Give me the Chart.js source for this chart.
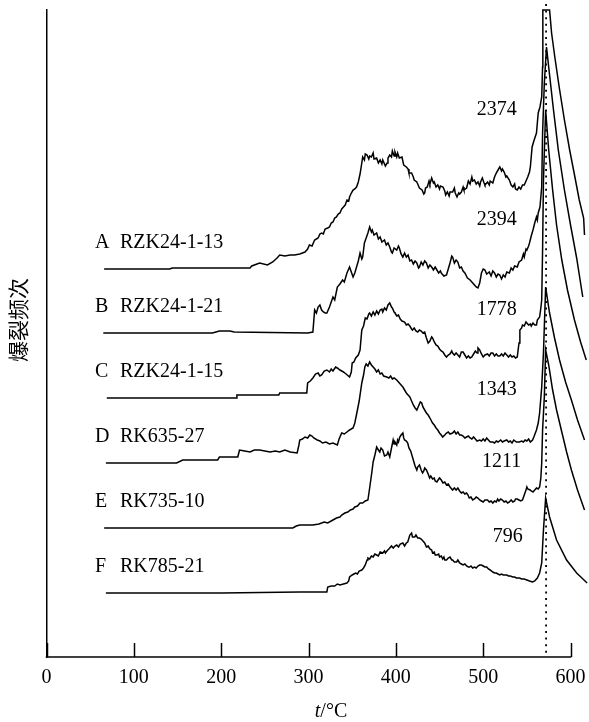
<!DOCTYPE html>
<html><head><meta charset="utf-8">
<script src="https://cdn.jsdelivr.net/npm/chart.js@4.4.1/dist/chart.umd.min.js"></script>
<style>html,body{margin:0;padding:0;background:#fff;}canvas{display:block;}</style>
</head><body>
<canvas id="c" width="589" height="722" style="width:589px;height:722px"></canvas>
<script>
// ---- data ----
const xTicks = [0,100,200,300,400,500,600];
const curveLetters = ['A','B','C','D','E','F'];
const sampleIds = ['RZK24-1-13','RZK24-1-21','RZK24-1-15','RK635-27','RK735-10','RK785-21'];
const peakCounts = ['2374','2394','1778','1343','1211','796'];
const baselineOffsets = [388,324,259,194,129,64];   // vertical offset of each stacked curve
const quartzLineT = 572;                              // dotted reference line (°C)

// [temperature °C, decrepitation height above own baseline]
const curveA = [[66,0],[141,0],[144,1],[233,1],[235,3],[244,6],[253,4],[259,7],[264,11],[267,14],[273,13],[279,14],[284,14],[290,15],[296,17],[299,20],[301,24],[304,23],[307,29],[311,31],[313,35],[315,36],[317,35],[319,40],[322,41],[324,42],[326,46],[328,47],[330,51],[332,52],[334,55],[336,56],[338,60],[339,61],[342,64],[344,69],[346,68],[347,72],[349,76],[351,79],[353,80],[355,82],[357,87],[359,95],[361,106],[362,112],[364,109],[365,115],[367,114],[369,110],[370,113],[372,112],[374,116],[375,110],[378,111],[380,106],[382,109],[384,105],[385,109],[388,103],[390,106],[391,111],[393,114],[395,112],[396,118],[398,113],[399,117],[401,112],[402,116],[404,111],[407,112],[409,104],[412,102],[414,100],[415,96],[418,96],[420,92],[421,89],[424,87],[426,83],[427,81],[430,79],[432,75],[433,76],[434,81],[436,82],[438,88],[439,85],[441,91],[443,86],[444,87],[446,82],[448,84],[450,80],[451,83],[454,82],[456,78],[457,74],[459,77],[461,73],[462,77],[465,77],[467,81],[468,76],[470,72],[472,76],[473,75],[475,77],[477,82],[478,79],[481,81],[483,88],[485,85],[487,92],[488,88],[490,89],[492,85],[494,87],[496,83],[497,87],[499,91],[501,86],[502,84],[505,87],[507,84],[508,88],[511,86],[513,92],[515,96],[517,99],[519,102],[521,98],[522,100],[524,97],[526,92],[527,93],[530,89],[532,84],[534,82],[536,85],[537,80],[539,79],[541,82],[543,80],[545,84],[547,84],[549,88],[551,92],[553,97],[554,102],[556,122],[558,128],[561,136],[563,156],[565,162],[567,172],[568,202],[568.3,259],[576,259],[578.3,236],[582,212],[587,182],[593,149],[599,119],[605,92],[610,69],[615,51],[616,34]];
const curveB = [[65,0],[150,0],[190,0],[198,2],[210,2],[215,1],[299,0],[305,1],[307,23],[309,20],[311,26],[313,28],[315,23],[317,21],[319,20],[321,20],[324,26],[326,31],[328,36],[330,33],[333,46],[336,49],[339,53],[341,51],[344,60],[347,66],[349,61],[351,56],[353,60],[355,66],[357,72],[359,80],[361,74],[362,76],[364,90],[366,95],[368,100],[370,106],[372,101],[373,103],[375,98],[378,100],[380,94],[382,96],[384,91],[387,93],[389,88],[391,90],[393,86],[395,81],[396,80],[398,85],[401,83],[403,87],[404,85],[406,79],[408,76],[410,80],[412,76],[414,78],[416,72],[418,73],[420,69],[422,72],[424,70],[426,65],[427,66],[429,71],[431,68],[433,72],[435,70],[437,65],[439,68],[441,66],[443,63],[445,66],[447,63],[449,60],[451,62],[452,60],[455,57],[458,58],[460,64],[462,70],[464,77],[465,76],[467,70],[469,73],[471,71],[473,65],[475,66],[477,62],[479,60],[482,55],[485,53],[487,51],[490,48],[492,46],[494,45],[496,50],[498,60],[500,64],[502,63],[504,59],[507,61],[509,57],[511,62],[513,60],[515,56],[517,59],[519,58],[521,54],[523,58],[525,56],[527,61],[530,60],[532,65],[534,63],[536,67],[539,66],[541,71],[544,73],[546,79],[547,76],[549,84],[550,83],[552,87],[553,90],[555,97],[557,103],[559,110],[561,116],[562,113],[563,120],[565,126],[567,146],[568,200],[570,250],[572.5,286],[576,258],[580.5,223],[586,183],[593,143],[600,108],[607,75],[614,36]];
const curveC = [[69,0],[150,0],[217,0],[218,3],[266,3],[267,5],[298,5],[299,15],[302,17],[305,20],[308,24],[311,25],[313,22],[315,23],[318,27],[321,28],[324,26],[326,29],[328,27],[331,31],[333,30],[336,28],[338,27],[340,26],[343,24],[347,21],[349,26],[350,35],[352,36],[354,40],[357,43],[359,48],[361,68],[363,72],[365,80],[367,79],[369,84],[370,85],[372,82],[374,86],[376,83],[378,87],[380,84],[382,88],[384,89],[385,86],[387,90],[389,88],[391,93],[393,95],[395,91],[396,90],[398,86],[399,85],[401,82],[403,83],[405,79],[407,77],[410,76],[412,73],[414,74],[416,72],[418,69],[419,68],[421,70],[423,67],[425,66],[427,68],[429,67],[431,65],[433,66],[435,60],[437,55],[439,57],[441,61],[442,60],[444,56],[446,53],[448,52],[450,49],[452,47],[454,46],[456,43],[458,41],[460,43],[462,44],[464,47],[465,45],[467,43],[469,45],[471,43],[473,41],[475,46],[477,46],[479,43],[481,40],[483,42],[485,40],[487,41],[489,44],[491,47],[493,45],[494,50],[496,48],[498,44],[500,41],[502,43],[505,44],[507,42],[509,45],[511,45],[513,42],[515,44],[517,42],[519,42],[521,44],[523,42],[525,45],[527,43],[529,41],[531,43],[533,41],[535,42],[537,40],[539,41],[541,55],[542,68],[544,70],[545,73],[547,72],[549,76],[550,75],[552,73],[554,74],[555,72],[557,75],[559,73],[561,73],[562,78],[564.6,81],[566,90],[567,98],[568,148],[569,218],[571.5,288],[575,248],[579.5,208],[584,173],[590,138],[596.5,108],[604.5,78],[611.5,56],[618,38]];
const curveD = [[68,0],[149,0],[156,3],[196,3],[198,6],[219,6],[221,13],[227,12],[233,11],[238,13],[244,13],[250,12],[256,11],[262,12],[267,11],[273,13],[279,11],[287,10],[289,18],[290,23],[293,24],[296,26],[299,25],[301.5,28],[304,27],[306,25],[310,23],[313,22],[316,20],[320,21],[324,19],[328,20],[333,18],[335,24],[338,30],[341,29],[344,31],[347,33],[351,35],[353,40],[356,53],[358,62],[361,80],[363,88],[364.5,96],[366,99],[368,97],[370,101],[372,98],[374,96],[376,94],[378,91],[380,93],[382,89],[384,90],[386,87],[389.6,86],[392,85],[394,87],[396,84],[398,85],[401,83],[403,81],[405,79],[408,76],[410,73],[412,70],[414,68],[416,66],[418,62],[420,58],[422,55],[424,53],[426,57],[428,61],[429.6,60],[431,56],[433,53],[435,50],[437,48],[439,45],[442,40],[444,38],[446,35],[448,33],[450,30],[452,28],[453.6,26],[456,28],[458,30],[460,31],[462,29],[465,30],[467,32],[469,29],[471,31],[473,28],[475,28],[477,27],[479,25],[481,26],[483,27],[485,25],[487,24],[489,26],[491,24],[493,22],[496,23],[498,22],[500,24],[502,22],[504,25],[506,23],[508,21],[511,21],[513,20],[515,22],[517,21],[520,23],[522,21],[524,22],[527,23],[529,21],[531,22],[533,20],[535,23],[538,21],[541.5,21],[544,22],[546,21],[548,23],[550,22],[552,24],[554,21],[556.5,23],[558,26],[561,33],[563,40],[564.6,50],[567,76],[569,110],[571.5,176],[576,150],[581.7,125],[587.4,103],[594.3,81],[601,63],[608,43],[616,23]];
const curveE = [[66,0],[200,0],[282,0],[286,2],[290,3],[298,3],[305,3],[312,4],[318,6],[322,5],[328,8],[332,10],[336,11],[338,13],[341.6,15],[345,16],[348,18],[351,19],[353,21],[356,22],[359,25],[362,25],[365,27],[368,28],[370,40],[372.4,55],[374,66],[376,73],[378,81],[380,78],[381.6,76],[383,80],[385,78],[387,72],[389.6,73],[391,76],[393,71],[395,80],[396.9,88],[398,84],[399,86],[401,83],[402,88],[403,86],[404.5,91],[406,93],[408,95],[409,90],[410,88],[412,87],[413.6,85],[415,80],[417,77],[419,71],[421,65],[422,62],[424,58],[425,61],[427,63],[429,58],[430.6,55],[432,57],[433,60],[435,58],[437,54],[438.7,50],[440,52],[442,49],[444,50],[445,47],[447,46],[449,49],[450,50],[452,48],[454,45],[456,46],[458,43],[460,44],[462,41],[465,38],[467,40],[469,38],[471,40],[473,37],[475,35],[477,36],[479,34],[481,35],[482.6,33],[484,30],[486,31],[488,28],[490,29],[492,31],[494,30],[496,28],[498,27],[500,26],[502,28],[505,28],[507,26],[509,27],[511,25],[513,27],[515,26],[516.5,29],[518,27],[520,29],[522,28],[524,26],[526,27],[528,25],[530,26],[532,28],[534,26],[536,27],[537,29],[539,29],[541,28],[543,27],[545,28],[547,33],[549,38],[550,41],[551,39],[553.7,38],[555,37],[557,36],[559,38],[561,40],[563,39],[564.6,41],[566,50],[567,65],[568,98],[570,131],[571.5,178],[575,163],[579.5,138],[584,118],[590,96],[595.5,76],[601,58],[608,38],[616,18]];
const curveF = [[68,0],[143,0],[200,0],[290,1],[300,1],[310,1],[321,1],[322,6],[326,7],[330,7],[333,9],[336,8],[340,9],[344,10],[346,12],[347,16],[350,18],[352,19],[354,20],[356,19],[358,22],[361,23],[363,25],[365,28],[367,33],[368,35],[370,34],[372,37],[374,36],[376,39],[378,38],[380,37],[382,41],[385,40],[387,42],[388,40],[390.7,43],[392,44],[393,45],[395,47],[397,45],[399,47],[401,48],[403,46],[405,49],[408,50],[410,47],[412,50],[413.6,51],[415,55],[416,58],[418,60],[419,56],[421.6,56],[423,58],[425,55],[427,55],[429,54],[431,52],[433,50],[435,46],[437,47],[439,44],[441,43],[442,40],[444,41],[445,38],[447,38],[449,39],[450,36],[452,37],[453.6,34],[455,36],[456,33],[458,33],[460,35],[462,36],[464,33],[465,33],[467,31],[469.6,31],[471,33],[473,30],[475,29],[477,28],[479,29],[481,27],[483,26],[484.5,26],[486,27],[488,25],[490,26],[492,25],[494,27],[496,28],[498,28],[500,27],[502,26],[504,26],[506,24],[508,23],[511,21],[513,20],[515,20],[517,19],[519,18],[521,19],[523,18],[525,18],[527,18],[529,17],[531,17],[534,16],[536,16],[538,15],[541.7,15],[544,14],[547,14],[550,13],[553,12],[556.5,11],[559,12],[562,15],[564.6,20],[567,30],[569,63],[571.5,95],[576,76],[584,53],[595.5,33],[607,20],[619,10]];
const curves = [curveA, curveB, curveC, curveD, curveE, curveF];

// ---- text placement (in data units) ----
const nameLabelT = 55.5, nameLabelDy = 26;
const countLabelT = [515.5,515.5,515.5,515.5,521,528];
const countLabelV = [547,437,347,267,195,120];

const SERIF = '"Liberation Serif","Times New Roman",serif';

const datasets = curves.map((c,i)=>({
  label: curveLetters[i],
  data: c.map(p=>({x:p[0], y:p[1]+baselineOffsets[i]})),
  borderColor:'#000', borderWidth:1.5, pointRadius:0, tension:0, fill:false, clip:false
}));

const decor = {
  id:'decor',
  afterDraw(chart){
    const {ctx, scales:{x:xs, y:ys}, chartArea:ca} = chart;
    ctx.save();
    ctx.strokeStyle='#000'; ctx.lineWidth=1.5;
    // bottom axis line, from first to last tick
    const x0 = xs.getPixelForValue(xTicks[0]), x1 = xs.getPixelForValue(xTicks[xTicks.length-1]);
    ctx.beginPath(); ctx.moveTo(x0-0.75, ca.bottom); ctx.lineTo(x1+0.75, ca.bottom); ctx.stroke();
    // inward x ticks
    xTicks.forEach(v=>{
      const px = Math.round(xs.getPixelForValue(v))+0.5;
      ctx.beginPath(); ctx.moveTo(px, ca.bottom); ctx.lineTo(px, ca.bottom-14); ctx.stroke();
    });
    // dotted reference line
    const qx = xs.getPixelForValue(quartzLineT);
    ctx.setLineDash([2,4.6]); ctx.lineWidth=1.8;
    ctx.beginPath(); ctx.moveTo(qx, ca.top-6); ctx.lineTo(qx, ca.bottom-2); ctx.stroke();
    ctx.setLineDash([]);
    // curve names
    ctx.fillStyle='#000'; ctx.font='20px '+SERIF; ctx.textBaseline='middle'; ctx.textAlign='left';
    curveLetters.forEach((L,i)=>{
      const px = xs.getPixelForValue(nameLabelT);
      const py = ys.getPixelForValue(baselineOffsets[i]+nameLabelDy);
      ctx.fillText(L, px, py);
      ctx.fillText(sampleIds[i], px+25, py);
    });
    // peak counts
    ctx.textAlign='center';
    peakCounts.forEach((s,i)=>{
      ctx.fillText(s, xs.getPixelForValue(countLabelT[i]), ys.getPixelForValue(countLabelV[i]));
    });
    // y title
    ctx.save();
    ctx.translate(18, 320); ctx.rotate(-Math.PI/2);
    ctx.font='21px "Noto Sans CJK SC"'; ctx.textAlign='center'; ctx.textBaseline='middle';
    ctx.fillText('爆裂频次', 0, 0);
    ctx.restore();
    // x title
    ctx.textAlign='left'; ctx.textBaseline='middle';
    ctx.font='italic 20px '+SERIF; const w1 = ctx.measureText('t').width;
    ctx.font='20px '+SERIF; const w2 = ctx.measureText('/°C').width;
    let sx = 331 - (w1+w2)/2;
    ctx.font='italic 20px '+SERIF; ctx.fillText('t', sx, 712); sx+=w1;
    ctx.font='20px '+SERIF; ctx.fillText('/°C', sx, 712);
    ctx.restore();
  }
};

new Chart(document.getElementById('c'), {
  type:'line',
  data:{datasets},
  options:{
    responsive:false, animation:false, devicePixelRatio:1,
    layout:{padding:{left:0,right:1,top:10,bottom:0}},
    plugins:{legend:{display:false}, tooltip:{enabled:false}},
    scales:{
      x:{type:'linear', min:0, max:620,
         afterBuildTicks(s){ s.ticks = xTicks.map(v=>({value:v})); },
         ticks:{font:{family:SERIF,size:20}, color:'#000', padding:9, maxRotation:0, autoSkip:false},
         grid:{display:false, drawTicks:false},
         border:{display:false},
         afterFit(s){ s.height = 65; s.paddingLeft = 0; s.paddingRight = 0; }},
      y:{type:'linear', min:0, max:647,
         ticks:{display:false},
         grid:{display:false, drawTicks:false},
         border:{display:true, color:'#000', width:1.5},
         afterFit(s){ s.width = 46.5; s.paddingTop = 0; s.paddingBottom = 0; }}
    }
  },
  plugins:[decor]
});
</script>
</body></html>
